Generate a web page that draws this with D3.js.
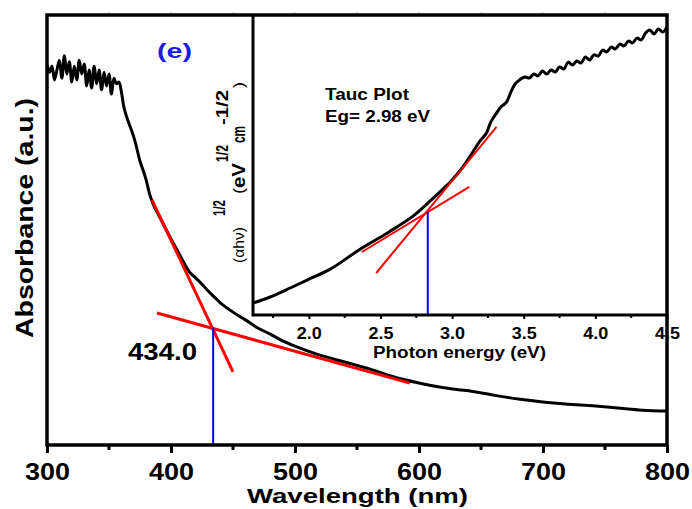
<!DOCTYPE html>
<html><head><meta charset="utf-8">
<script src="https://cdn.jsdelivr.net/npm/d3@7"></script>
<style>
html,body{margin:0;padding:0;background:#fff;}
text{font-family:"Liberation Sans",Arial,Helvetica,sans-serif;}
</style>
</head><body>
<svg id="chart" width="692" height="509"></svg>
<script>
// ---------- DATA ----------
// Main UV-Vis absorbance spectrum (wavelength nm, absorbance a.u.)
const wavelength = [300,302,304,306,308,310,312,314,316,318,320,322,324,326,328,330,332,334,336,338,340,342,344,346,348,350,352,354,356,358,360,
  362,364,366,368,370,372,375,378,380,383,386,390,395,400,405,410,415,420,425,430,435,440,450,460,470,480,490,500,510,520,540,560,580,600,620,640,660,680,700,720,740,760,780,800];
const absorbance = [0.884,0.867,0.881,0.849,0.872,0.895,0.853,0.905,0.863,0.891,0.844,0.881,0.849,0.895,0.863,0.886,0.835,0.872,0.830,0.881,0.840,0.872,0.826,0.867,0.835,0.863,0.816,0.853,0.840,0.844,0.821,
  0.786,0.765,0.749,0.733,0.716,0.695,0.660,0.635,0.616,0.581,0.558,0.535,0.507,0.479,0.453,0.426,0.402,0.388,0.374,0.358,0.344,0.330,0.309,0.291,0.272,0.258,0.242,0.230,0.219,0.209,0.193,0.177,0.158,0.144,0.133,0.126,0.116,0.107,0.100,0.095,0.091,0.086,0.081,0.079];
const xTicks = [300,400,500,600,700,800];
// tangent lines (wavelength, absorbance) endpoints
const tangentSteep = [[384.7,0.570],[450.0,0.170]];
const tangentBase  = [[388.7,0.307],[592.7,0.144]];
const edgeWavelength = 434.0;
const edgeAbs = 0.273;

// Inset Tauc plot (photon energy eV, (αhν)^1/2 a.u.)
const energy = [1.61,1.73,1.87,1.99,2.15,2.35,2.56,2.72,2.84,2.93,3.00,3.07,3.14,3.19,3.24,3.27,3.31,3.34,3.38,3.41,3.44,3.47,
  3.48,3.51,3.54,3.57,3.60,3.63,3.66,3.69,3.72,3.75,3.78,3.81,3.84,3.87,3.90,3.93,3.96,3.99,4.02,4.05,4.08,4.11,4.14,4.17,4.20,4.23,4.26,4.29,4.32,4.35,4.38,4.41,4.44,4.47,4.50];
const tauc = [0.040,0.060,0.090,0.117,0.153,0.217,0.277,0.327,0.377,0.417,0.450,0.490,0.540,0.577,0.607,0.643,0.673,0.693,0.710,0.743,0.770,0.783,
  0.787,0.793,0.790,0.803,0.797,0.813,0.803,0.817,0.810,0.827,0.820,0.843,0.833,0.847,0.840,0.860,0.850,0.867,0.863,0.883,0.877,0.893,0.887,0.903,0.897,0.913,0.907,0.923,0.917,0.940,0.950,0.937,0.953,0.943,0.960];
const insetTicks = [2.0,2.5,3.0,3.5,4.0,4.5];
const insetSteep = [[2.47,0.140],[3.31,0.627]];
const insetBase  = [[2.37,0.210],[3.12,0.427]];
const insetEdgeE = 2.83;
const insetEdgeV = 0.343;

// ---------- LAYOUT ----------
const svg = d3.select("#chart");
const M = {left:47, right:667, top:15, bottom:445};
const I = {left:253, right:667, top:15, bottom:315};

const x = d3.scaleLinear().domain([300,800]).range([M.left,M.right]);
const y = d3.scaleLinear().domain([0,1]).range([M.bottom,M.top]);
const xi = d3.scaleLinear().domain([1.61,4.5]).range([I.left,I.right]);
const yi = d3.scaleLinear().domain([0,1]).range([I.bottom,I.top]);

const bold = "bold";

// ---- main curve ----
const line = d3.line().x((d,i)=>x(wavelength[i])).y((d,i)=>y(absorbance[i])).curve(d3.curveCatmullRom.alpha(0.5));
svg.append("path").attr("d", line(absorbance)).attr("fill","none").attr("stroke","#000").attr("stroke-width",3).attr("stroke-linejoin","round");

// tangents
const segLine = d3.line().x(d=>x(d[0])).y(d=>y(d[1]));
svg.append("path").attr("d",segLine(tangentSteep)).attr("stroke","#ff0000").attr("stroke-width",3).attr("fill","none");
svg.append("path").attr("d",segLine(tangentBase)).attr("stroke","#ff0000").attr("stroke-width",3).attr("fill","none");
svg.append("line").attr("x1",x(edgeWavelength)).attr("x2",x(edgeWavelength)).attr("y1",y(edgeAbs)).attr("y2",y(0))
  .attr("stroke","#0000ff").attr("stroke-width",2);

svg.append("text").attr("x",128).attr("y",360).attr("font-size",23).attr("font-weight",bold)
  .attr("textLength",69).attr("lengthAdjust","spacingAndGlyphs").text(edgeWavelength.toFixed(1));

svg.append("text").attr("x",157).attr("y",58).attr("font-size",20).attr("font-weight",bold).attr("fill","#1a1ae6")
  .attr("textLength",35).attr("lengthAdjust","spacingAndGlyphs").text("(e)");

// ---- inset ----
svg.append("rect").attr("x",I.left).attr("y",I.top).attr("width",I.right-I.left).attr("height",I.bottom-I.top).attr("fill","#fff");
const iline = d3.line().x((d,i)=>xi(energy[i])).y((d,i)=>yi(tauc[i])).curve(d3.curveCatmullRom.alpha(0.5));
svg.append("path").attr("d", iline(tauc)).attr("fill","none").attr("stroke","#000").attr("stroke-width",3).attr("stroke-linejoin","round");
const iseg = d3.line().x(d=>xi(d[0])).y(d=>yi(d[1]));
svg.append("path").attr("d",iseg(insetSteep)).attr("stroke","#ff0000").attr("stroke-width",2).attr("fill","none");
svg.append("path").attr("d",iseg(insetBase)).attr("stroke","#ff0000").attr("stroke-width",2).attr("fill","none");
svg.append("line").attr("x1",xi(insetEdgeE)).attr("x2",xi(insetEdgeE)).attr("y1",yi(insetEdgeV)).attr("y2",yi(0))
  .attr("stroke","#0000ff").attr("stroke-width",2);

// inset axis
const ixAxis = d3.axisBottom(xi).tickValues(insetTicks).tickFormat(d3.format(".1f")).tickSize(4).tickPadding(8);
const gi = svg.append("g").attr("transform",`translate(0,${I.bottom})`).call(ixAxis);
gi.select(".domain").remove();
gi.selectAll(".tick line").attr("stroke","#000").attr("stroke-width",2);
gi.selectAll(".tick text").attr("font-size",17).attr("font-weight",bold).attr("fill","#000")
  .attr("font-family","Liberation Sans, Arial, sans-serif")
  .attr("textLength",25).attr("lengthAdjust","spacingAndGlyphs");
const iminor = d3.range(1.75,4.5,0.5);
svg.append("g").selectAll("line").data(iminor).join("line")
  .attr("x1",d=>xi(d)).attr("x2",d=>xi(d)).attr("y1",I.bottom).attr("y2",I.bottom+3).attr("stroke","#000").attr("stroke-width",2);

svg.append("text").attr("x",373).attr("y",358).attr("font-size",16).attr("font-weight",bold)
  .attr("textLength",173).attr("lengthAdjust","spacingAndGlyphs").text("Photon energy (eV)");
svg.append("text").attr("x",325).attr("y",100).attr("font-size",16).attr("font-weight",bold)
  .attr("textLength",84).attr("lengthAdjust","spacingAndGlyphs").text("Tauc Plot");
svg.append("text").attr("x",325).attr("y",122).attr("font-size",16).attr("font-weight",bold)
  .attr("textLength",105).attr("lengthAdjust","spacingAndGlyphs").text("Eg= 2.98 eV");

// inset frame
svg.append("path").attr("d",`M${I.left},${I.top}V${I.bottom}H${I.right}`).attr("fill","none").attr("stroke","#000").attr("stroke-width",3);

// inset y label pieces: [text, start s, end s, baseline x, size, weight]
const yLabelPieces = [
  ["(\u03b1h\u03bd)",0,36,244,15,"normal"],
  ["1/2",47,63,225,16,"bold"],
  ["(",69,75,244,15,"normal"],
  ["eV",75,100,245,19,"bold"],
  ["1/2",101,118,228,16,"bold"],
  ["cm",120,137,245,19,"bold"],
  ["-1/2",138,173,228,16,"bold"],
  [")",175,181,244,15,"normal"]
];
const yLabelBase = 263;
svg.append("g").selectAll("text").data(yLabelPieces).join("text")
  .attr("transform",d=>`translate(${d[3]},${yLabelBase-d[1]}) rotate(-90)`)
  .attr("font-size",d=>d[4]).attr("font-weight",d=>d[5])
  .attr("textLength",d=>d[2]-d[1]).attr("lengthAdjust","spacingAndGlyphs")
  .text(d=>d[0]);

// ---- main axes ----
const xAxis = d3.axisBottom(x).tickValues(xTicks).tickFormat(d3.format("d")).tickSize(8).tickPadding(11);
const gx = svg.append("g").attr("transform",`translate(0,${M.bottom})`).call(xAxis);
gx.select(".domain").remove();
gx.selectAll(".tick line").attr("stroke","#000").attr("stroke-width",3);
gx.selectAll(".tick text").attr("font-size",23).attr("font-weight",bold).attr("fill","#000")
  .attr("font-family","Liberation Sans, Arial, sans-serif")
  .attr("textLength",45).attr("lengthAdjust","spacingAndGlyphs");
const minor = d3.range(350,800,100);
svg.append("g").selectAll("line").data(minor).join("line")
  .attr("x1",d=>x(d)).attr("x2",d=>x(d)).attr("y1",M.bottom).attr("y2",M.bottom+5).attr("stroke","#000").attr("stroke-width",3);
// faint top ticks
svg.append("g").selectAll("line").data(d3.range(350,800,50)).join("line")
  .attr("x1",d=>x(d)).attr("x2",d=>x(d)).attr("y1",M.top).attr("y2",M.top-3).attr("stroke","#bbb").attr("stroke-width",1);

// main frame
svg.append("rect").attr("x",M.left).attr("y",M.top).attr("width",M.right-M.left).attr("height",M.bottom-M.top)
  .attr("fill","none").attr("stroke","#000").attr("stroke-width",3.5);

svg.append("text").attr("x",247).attr("y",503).attr("font-size",21).attr("font-weight",bold)
  .attr("textLength",221).attr("lengthAdjust","spacingAndGlyphs").text("Wavelength (nm)");
svg.append("text").attr("transform","translate(33,218) rotate(-90)").attr("text-anchor","middle")
  .attr("font-size",24).attr("font-weight",bold)
  .attr("textLength",240).attr("lengthAdjust","spacingAndGlyphs").text("Absorbance (a.u.)");
</script>
</body></html>
